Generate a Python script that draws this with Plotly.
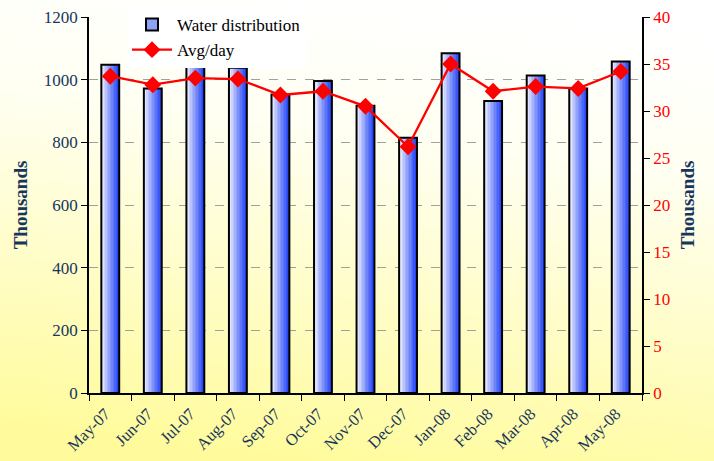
import base64
import plotly.graph_objects as go

months = ["May-07", "Jun-07", "Jul-07", "Aug-07", "Sep-07", "Oct-07", "Nov-07",
          "Dec-07", "Jan-08", "Feb-08", "Mar-08", "Apr-08", "May-08"]
water = [1048, 972, 1041, 1038, 953, 996, 917, 815, 1084, 932, 1013, 972, 1058]
avg_day = [33.7, 32.8, 33.5, 33.4, 31.7, 32.1, 30.5, 26.2, 35.0, 32.1, 32.6, 32.4, 34.2]
left_ticks = [0, 200, 400, 600, 800, 1000, 1200]
right_ticks = [0, 5, 10, 15, 20, 25, 30, 35, 40]

W, H = 714, 461
ML, MR, MT, MB = 89, 72, 17, 68
PW, PH = W - ML - MR, H - MT - MB

NAVY = "#17365d"
FONT = "Liberation Serif"

svg = (
    '<svg xmlns="http://www.w3.org/2000/svg" width="714" height="461" preserveAspectRatio="none">'
    '<defs><linearGradient id="g" x1="0.6" y1="0" x2="0.4" y2="1">'
    '<stop offset="0" stop-color="#ffffff"/><stop offset="0.3" stop-color="#fffff2"/>'
    '<stop offset="1" stop-color="#fffb9c"/></linearGradient></defs>'
    '<rect width="714" height="461" fill="url(#g)"/></svg>'
)
bg_src = "data:image/svg+xml;base64," + base64.b64encode(svg.encode()).decode()

fig = go.Figure()

# legend entry for bars
fig.add_trace(go.Bar(x=months, y=[None] * len(months), name="Water distribution",
                     marker=dict(color="#8ea2f7", line=dict(color="black", width=2)),
                     showlegend=True))

# gradient bars made of vertical strips
bw = 0.42
n = 12
c0 = (248, 248, 255)
c1 = (40, 72, 245)
for i in range(n):
    t = (i / (n - 1)) ** 0.9
    col = "rgb(%d,%d,%d)" % tuple(round(a + (b - a) * t) for a, b in zip(c0, c1))
    fig.add_trace(go.Bar(x=months, y=water, width=bw / n + 0.004,
                         offset=-bw / 2 + i * bw / n,
                         marker=dict(color=col, line=dict(width=0)),
                         showlegend=False, hoverinfo="skip"))
# outline
fig.add_trace(go.Bar(x=months, y=water, width=bw, offset=-bw / 2,
                     marker=dict(color="rgba(0,0,0,0)", line=dict(color="black", width=2)),
                     showlegend=False))

fig.add_trace(go.Scatter(x=months, y=avg_day, name="Avg/day", yaxis="y2",
                         mode="lines+markers",
                         line=dict(color="#ff0000", width=2.3),
                         marker=dict(symbol="diamond", size=13, color="#ff0000")))

fig.update_layout(
    width=W, height=H,
    margin=dict(l=ML, r=MR, t=MT, b=MB, autoexpand=False),
    barmode="overlay",
    paper_bgcolor="#fffde0",
    plot_bgcolor="rgba(0,0,0,0)",
    font=dict(family=FONT, size=17, color=NAVY),
    images=[dict(source=bg_src, xref="paper", yref="paper",
                 x=-ML / PW, y=1 + MT / PH, sizex=W / PW, sizey=H / PH,
                 sizing="stretch", xanchor="left", yanchor="top", layer="below")],
    xaxis=dict(type="category", range=[-0.5, len(months) - 0.5], automargin=False,
               tickangle=-45, tickson="boundaries", ticks="outside", ticklen=6,
               ticklabelstandoff=3, ticklabelshift=-5,
               tickcolor="black", showline=True, linecolor="black", linewidth=1.5,
               showgrid=False, tickfont=dict(family=FONT, size=16.5, color=NAVY)),
    yaxis=dict(range=[0, 1200], tickvals=left_ticks, ticks="outside", ticklen=6,
               automargin=False,
               tickcolor="black", showline=True, linecolor="black", linewidth=1.5,
               showgrid=True, gridcolor="#a0a0a0", griddash="dash", gridwidth=1,
               zeroline=False,
               tickfont=dict(family=FONT, size=17, color=NAVY),
               title=dict(text="<b>Thousands</b>", standoff=11,
                          font=dict(family=FONT, size=19, color=NAVY))),
    yaxis2=dict(range=[0, 40], tickvals=right_ticks, overlaying="y", side="right",
                automargin=False,
                ticks="outside", ticklen=6, tickcolor="black", showline=True,
                linecolor="black", linewidth=1.5, showgrid=False, zeroline=False,
                tickfont=dict(family=FONT, size=17, color="#ff0000"),
                title=dict(text="<b>Thousands</b>", standoff=12,
                           font=dict(family=FONT, size=19, color=NAVY))),
    legend=dict(x=(127 - ML) / PW, y=1 + 10 / PH, xanchor="left", yanchor="top",
                bgcolor="white", borderwidth=0, tracegroupgap=0,
                font=dict(family=FONT, size=17, color="black"),
                itemwidth=40),
)

fig.write_html("out.html", config={"displayModeBar": False},
               post_script="document.body.style.margin='0';document.body.style.padding='0';")
